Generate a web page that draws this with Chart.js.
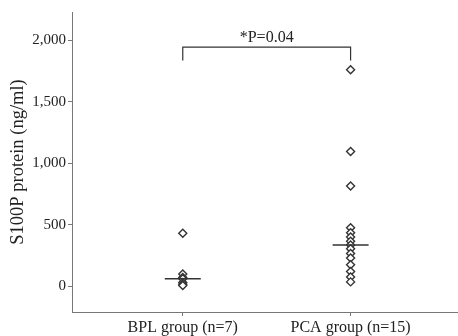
<!DOCTYPE html>
<html>
<head>
<meta charset="utf-8">
<script src="https://cdn.jsdelivr.net/npm/chart.js@4"></script>
<style>
body { margin: 0; background: #fff; }
</style>
</head>
<body>
<canvas id="chart" width="458" height="336"></canvas>
<script>
// Values (ng/ml)
const groups = ['BPL group (n=7)', 'PCA group (n=15)'];
const bplValues = [430, 100, 70, 60, 30, 15, 5];
const pcaValues = [1760, 1095, 815, 475, 435, 400, 365, 335, 305, 265, 230, 175, 120, 75, 35];
const yTicks = [0, 500, 1000, 1500, 2000];
const pLabel = '*P=0.04';

const serif = '"Liberation Serif", "Times New Roman", serif';
const axisColor = '#777';
const textColor = '#222';

function median(arr) {
    const s = [...arr].sort((a, b) => a - b);
    const mid = Math.floor(s.length / 2);
    return s.length % 2 ? s[mid] : (s[mid - 1] + s[mid]) / 2;
}

// significance bracket drawn over the two groups
const bracketPlugin = {
    id: 'bracket',
    afterDatasetsDraw(chart) {
        const { ctx, scales: { x, y } } = chart;
        const x1 = x.getPixelForValue(1);
        const x2 = x.getPixelForValue(2);
        const yTop = y.getPixelForValue(1945);
        const yEnd = y.getPixelForValue(1835);
        ctx.save();
        ctx.strokeStyle = '#333';
        ctx.lineWidth = 1.2;
        ctx.beginPath();
        ctx.moveTo(x1, yEnd);
        ctx.lineTo(x1, yTop);
        ctx.lineTo(x2, yTop);
        ctx.lineTo(x2, yEnd);
        ctx.stroke();
        ctx.fillStyle = textColor;
        ctx.font = '16px ' + serif;
        ctx.textAlign = 'center';
        ctx.textBaseline = 'alphabetic';
        ctx.fillText(pLabel, (x1 + x2) / 2, yTop - 5);
        ctx.restore();
    }
};

const pointStyle = {
    pointStyle: 'rectRot',
    pointRadius: 4,
    pointBorderWidth: 1.4,
    pointBackgroundColor: '#fff',
    pointBorderColor: '#333',
    showLine: false
};

new Chart(document.getElementById('chart'), {
    type: 'scatter',
    data: {
        datasets: [
            {
                label: 'median',
                data: [{ x: 1, y: median(bplValues) }, { x: 2, y: median(pcaValues) }],
                pointStyle: 'line',
                pointRadius: 18,
                pointBorderWidth: 1.5,
                pointBorderColor: '#333',
                showLine: false
            },
            {
                label: groups[0],
                data: bplValues.map(v => ({ x: 1, y: v })),
                ...pointStyle
            },
            {
                label: groups[1],
                data: pcaValues.map(v => ({ x: 2, y: v })),
                ...pointStyle
            }
        ]
    },
    options: {
        responsive: false,
        animation: false,
        // autoPadding off, otherwise the wide median marks push the plot in
        layout: { autoPadding: false, padding: { top: 12, right: 0, left: 0, bottom: 0 } },
        plugins: {
            legend: { display: false },
            tooltip: { enabled: false }
        },
        scales: {
            x: {
                type: 'linear',
                min: 0.34,
                max: 2.64,
                afterBuildTicks: s => { s.ticks = [{ value: 1 }, { value: 2 }]; },
                afterFit: s => { s.height = 24; },
                ticks: {
                    callback: v => groups[v - 1],
                    font: { family: serif, size: 16 },
                    color: textColor,
                    padding: 2,
                    maxRotation: 0,
                    autoSkip: false
                },
                grid: { drawOnChartArea: false, drawTicks: true, tickLength: 4, color: axisColor },
                border: { color: axisColor, width: 1 }
            },
            y: {
                min: -210,
                max: 2230,
                afterBuildTicks: s => { s.ticks = yTicks.map(v => ({ value: v })); },
                afterFit: s => { s.width = 72; },
                ticks: {
                    callback: v => v.toLocaleString('en-US'),
                    font: { family: serif, size: 15 },
                    color: textColor,
                    padding: 2
                },
                grid: { drawOnChartArea: false, drawTicks: true, tickLength: 4, color: axisColor },
                border: { color: axisColor, width: 1 },
                title: {
                    display: true,
                    text: 'S100P protein (ng/ml)',
                    font: { family: serif, size: 18.5 },
                    color: textColor,
                    padding: { top: 7, bottom: 0 }
                }
            }
        }
    },
    plugins: [bracketPlugin]
});
</script>
</body>
</html>
